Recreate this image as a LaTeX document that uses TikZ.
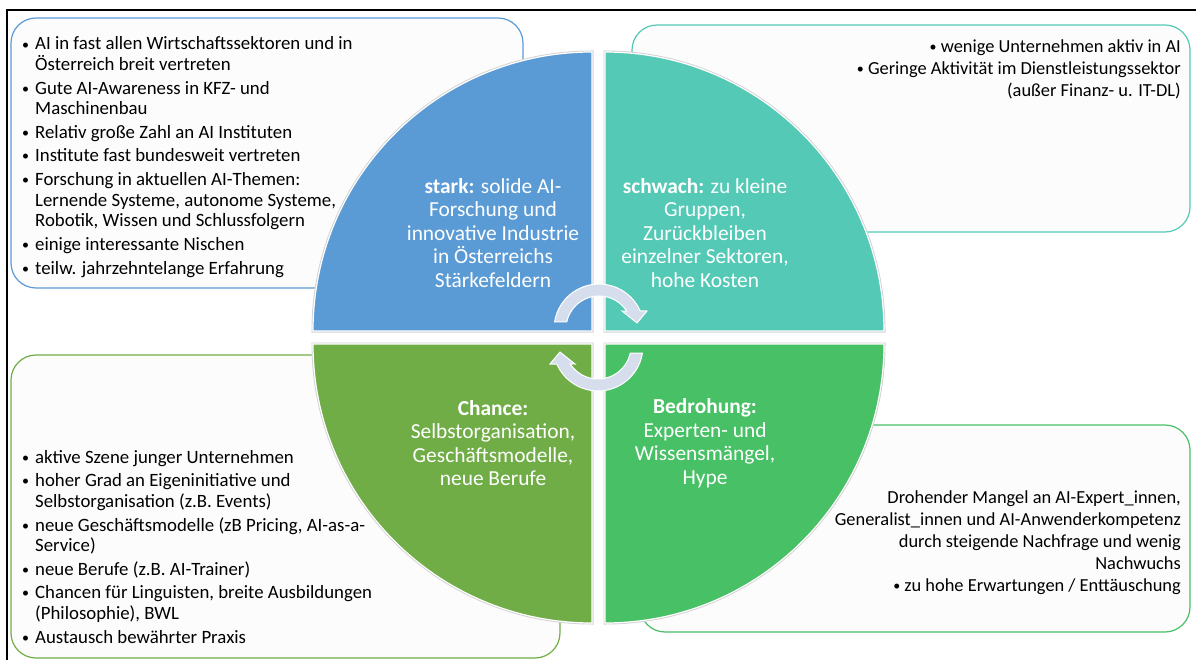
\documentclass[tikz,border=0pt]{standalone}
\usepackage{fontspec}
\setmainfont{Carlito}
\usetikzlibrary{positioning}
\definecolor{strongblue}{RGB}{91,155,213}
\definecolor{weakteal}{RGB}{83,201,182}
\definecolor{chancegreen}{RGB}{112,173,71}
\definecolor{threatgreen}{RGB}{72,192,102}
\definecolor{cyclegray}{RGB}{214,222,238}
\definecolor{boxfill}{RGB}{252,252,252}
\newcommand{\bdot}{{\fontsize{14}{14}\selectfont\raisebox{1pt}{•}}}
\newcommand{\bul}{\makebox[13pt][l]{\bdot}}
\newcommand{\ind}{\hspace*{13pt}}

\begin{document}
\begin{tikzpicture}[x=1pt, y=-1pt,
    infobox/.style={fill=boxfill, rounded corners=25pt, line width=1.2pt},
    quadtext/.style={text=white, align=center, inner sep=0pt, font=\fontsize{21.4}{23.5}\selectfont},
    listtext/.style={align=left, inner sep=0pt, font=\fontsize{18.8}{20.3}\selectfont},
    righttext/.style={align=right, inner sep=0pt, font=\fontsize{18.4}{22}\selectfont},
    cyclearrow/.style={fill=cyclegray, draw=white, line width=1pt}]
    \useasboundingbox (0,0) rectangle (1196,660);

    % Frame
    \draw[line width=1.8pt] (7,660) -- (7,10) -- (1196,10);

    % Text boxes behind the circle
    \draw[infobox, draw=strongblue] (11,18) rectangle (523,288);
    \draw[infobox, draw=weakteal] (632,25) rectangle (1190,232);
    \draw[infobox, draw=chancegreen] (11,355) rectangle (560,658);
    \draw[infobox, draw=threatgreen] (640,425) rectangle (1190,632);

    % Quadrants
    \foreach \cx/\cy/\a/\col in {592/331/180/strongblue, 605/331/270/weakteal,
                                 592/344/90/chancegreen, 605/344/0/threatgreen} {
        \draw[gray!35, line width=3pt] (\cx,\cy) -- ++(\a:279)
            arc[start angle=\a, end angle=\a+90, radius=279] -- cycle;
        \draw[fill=\col, draw=white, line width=1.2pt] (\cx,\cy) -- ++(\a:279)
            arc[start angle=\a, end angle=\a+90, radius=279] -- cycle;
    }

    % Cycle arrows
    \begin{scope}[shift={(599,329)}]
        \path[cyclearrow] (189:45) arc[start angle=189, end angle=336.4, radius=45]
            -- (48,-18) -- (38,-6) -- (23,-18) -- (327:33)
            arc[start angle=327, end angle=192.3, radius=33] -- cycle;
    \end{scope}
    \begin{scope}[shift={(598,346)}, rotate=180]
        \path[cyclearrow] (189:45) arc[start angle=189, end angle=336.4, radius=45]
            -- (48,-18) -- (38,-6) -- (23,-18) -- (327:33)
            arc[start angle=327, end angle=192.3, radius=33] -- cycle;
    \end{scope}

    % Quadrant labels
    \node[quadtext] (stark) at (493,233) {\textbf{stark:} solide AI-\\Forschung und\\innovative Industrie\\in Österreichs\\Stärkefeldern};
    \node[quadtext] (schwach) at (705,233) {\textbf{schwach:} zu kleine\\Gruppen,\\Zurückbleiben\\einzelner Sektoren,\\hohe Kosten};
    \node[quadtext] (chance) at (493,443) {\textbf{Chance:}\\Selbstorganisation,\\Geschäftsmodelle,\\neue Berufe};
    \node[quadtext] (bedrohung) at (705,443) {\textbf{Bedrohung:}\\Experten- und\\Wissensmängel,\\Hype};

    % Strengths (base = last line)
    \node[listtext, anchor=base west] (starkList) at (22,274) {%
        \bul AI in fast allen Wirtschaftssektoren und in\\
        \ind Österreich breit vertreten\\[3.5pt]
        \bul Gute AI-Awareness in KFZ- und\\
        \ind Maschinenbau\\[3.5pt]
        \bul Relativ große Zahl an AI Instituten\\[3.5pt]
        \bul Institute fast bundesweit vertreten\\[3.5pt]
        \bul Forschung in aktuellen AI-Themen:\\
        \ind Lernende Systeme, autonome Systeme,\\
        \ind Robotik, Wissen und Schlussfolgern\\[3.5pt]
        \bul einige interessante Nischen\\[3.5pt]
        \bul teilw. jahrzehntelange Erfahrung};

    % Weaknesses
    \node[righttext, anchor=base east] (schwachList) at (1181,97) {%
        \bdot{} wenige Unternehmen aktiv in AI\\
        \bdot{} Geringe Aktivität im Dienstleistungssektor\\
        (außer Finanz- u. IT-DL)};

    % Opportunities
    \node[listtext, anchor=base west] (chanceList) at (22,643) {%
        \bul aktive Szene junger Unternehmen\\[3.5pt]
        \bul hoher Grad an Eigeninitiative und\\
        \ind Selbstorganisation (z.B. Events)\\[3.5pt]
        \bul neue Geschäftsmodelle (zB Pricing, AI-as-a-\\
        \ind Service)\\[3.5pt]
        \bul neue Berufe (z.B. AI-Trainer)\\[3.5pt]
        \bul Chancen für Linguisten, breite Ausbildungen\\
        \ind (Philosophie), BWL\\[3.5pt]
        \bul Austausch bewährter Praxis};

    % Threats
    \node[righttext, anchor=base east] (bedrohungList) at (1181,591) {%
        Drohender Mangel an AI-Expert\_innen,\\
        Generalist\_innen und AI-Anwenderkompetenz\\
        durch steigende Nachfrage und wenig\\
        Nachwuchs\\
        \bdot{} zu hohe Erwartungen / Enttäuschung};
\end{tikzpicture}
\end{document}
